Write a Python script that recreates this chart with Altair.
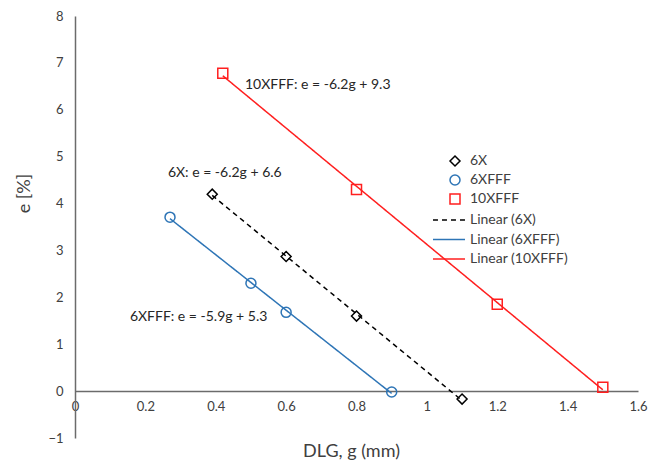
import altair as alt
import pandas as pd

# ---- data ----
series_names = ["6X", "6XFFF", "10XFFF"]
g_6x = [0.39, 0.60, 0.80, 1.10]
e_6x = [4.20, 2.87, 1.60, -0.17]
g_6xfff = [0.27, 0.50, 0.60, 0.90]
e_6xfff = [3.71, 2.30, 1.68, -0.02]
g_10xfff = [0.42, 0.80, 1.20, 1.50]
e_10xfff = [6.78, 4.30, 1.85, 0.08]

line_names = ["Linear (6X)", "Linear (6XFFF)", "Linear (10XFFF)"]
series_colors = ["#000000", "#2e75b6", "#ff1f1f"]
series_shapes = ["diamond", "circle", "square"]

ann_text = ["10XFFF: e = -6.2g + 9.3", "6X: e = -6.2g + 6.6", "6XFFF: e = -5.9g + 5.3"]
ann_g = [0.483, 0.264, 0.156]
ann_e = [6.52, 4.65, 1.58]

x_ticks = [0, 0.2, 0.4, 0.6, 0.8, 1.0, 1.2, 1.4, 1.6]
y_ticks = [-1, 0, 1, 2, 3, 4, 5, 6, 7, 8]

rows = []
for name, gs, es in [("6X", g_6x, e_6x), ("6XFFF", g_6xfff, e_6xfff), ("10XFFF", g_10xfff, e_10xfff)]:
    for g, e in zip(gs, es):
        rows.append({"series": name, "g": g, "e": e})
df = pd.DataFrame(rows)
ann = pd.DataFrame({"text": ann_text, "g": ann_g, "e": ann_e})

W, H = 563, 422
FONT = "Lato"

xs = alt.Scale(domain=[0, 1.6], nice=False, zero=False)
ys = alt.Scale(domain=[-1, 8], nice=False, zero=False)

x_enc = alt.X("g:Q", scale=xs, axis=alt.Axis(values=x_ticks, format="~g", offset=-H / 9,
                                             labelPadding=9, labelFlush=False,
                                             title="DLG, g (mm)", titleX=276, titleY=60,
                                             titleBaseline="middle", titleAlign="center"))
y_enc = alt.Y("e:Q", scale=ys, axis=alt.Axis(values=y_ticks, format="~g", labelPadding=12,
                                             labelFlush=False,
                                             title="e [%]", titleX=-51, titleY=177,
                                             titleAngle=270, titleBaseline="middle",
                                             titleAlign="center"))

line_legend = dict(title=None, orient="none", legendX=364, legendY=194,
                   symbolType="M-1.78,0H1.78", symbolSize=324, symbolStrokeWidth=1.5,
                   labelOffset=11, rowPadding=2.5, padding=0)
point_legend = dict(title=None, orient="none", legendX=373, legendY=138,
                    symbolSize=100, symbolStrokeWidth=1.5,
                    labelOffset=8, rowPadding=3, padding=0)

lines = alt.Chart(df).transform_regression(
    "g", "e", groupby=["series"]
).transform_calculate(
    name="'Linear (' + datum.series + ')'"
).mark_line(strokeWidth=1.5).encode(
    x=x_enc, y=y_enc,
    color=alt.Color("name:N", scale=alt.Scale(domain=line_names, range=series_colors),
                    legend=alt.Legend(**line_legend)),
    strokeDash=alt.StrokeDash("name:N", scale=alt.Scale(domain=line_names,
                                                        range=[[5, 4], [1, 0], [1, 0]]),
                              legend=alt.Legend(**line_legend)),
)

points = alt.Chart(df).mark_point(filled=False, size=100, strokeWidth=1.5, opacity=1).encode(
    x=x_enc, y=y_enc,
    color=alt.Color("series:N", scale=alt.Scale(domain=series_names, range=series_colors),
                    legend=alt.Legend(**point_legend)),
    shape=alt.Shape("series:N", scale=alt.Scale(domain=series_names, range=series_shapes),
                    legend=alt.Legend(**point_legend)),
)

labels = alt.Chart(ann).mark_text(align="left", baseline="middle", fontSize=14,
                                  font=FONT, color="#262626").encode(
    x=alt.X("g:Q", scale=xs), y=alt.Y("e:Q", scale=ys), text="text:N"
)

chart = alt.layer(lines, points, labels).resolve_scale(
    color="independent", shape="independent", strokeDash="independent"
).properties(
    width=W, height=H,
    autosize=alt.AutoSizeParams(type="none"),
    padding={"left": 67, "top": 8, "right": 15, "bottom": 24},
).configure_view(stroke=None).configure_axis(
    grid=False, ticks=False, domainColor="#6b6b6b", domainWidth=1.5,
    labelFont=FONT, labelFontSize=13, labelColor="#404040",
    titleFont=FONT, titleFontSize=18, titleFontWeight="normal", titleColor="#404040",
).configure_legend(
    labelFont=FONT, labelFontSize=14, labelColor="#404040",
)

chart.save("out.html", embed_options={"renderer": "svg", "actions": False})
